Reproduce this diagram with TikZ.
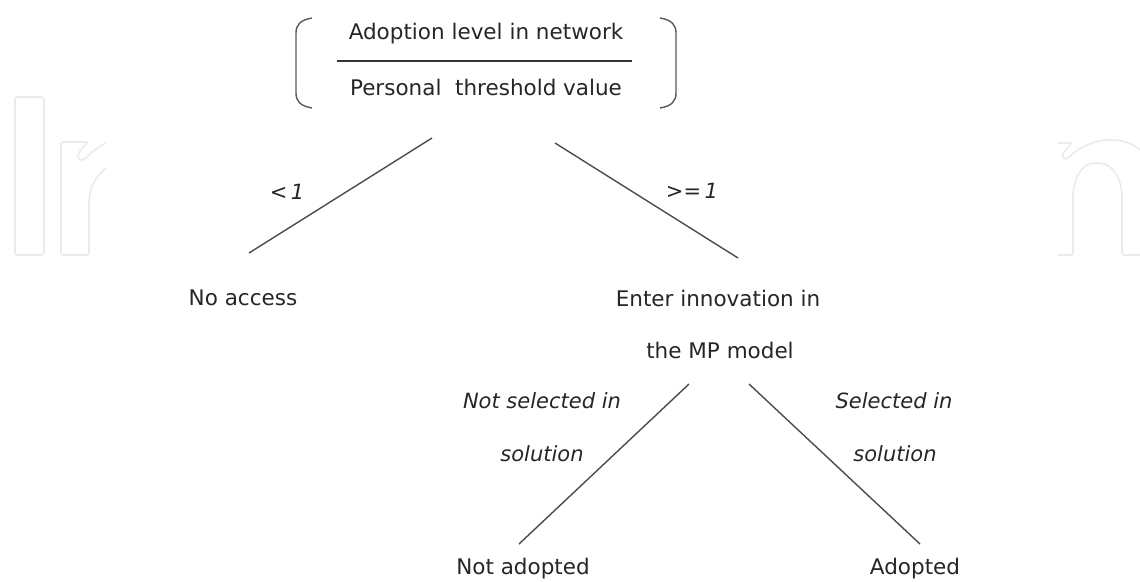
\documentclass[tikz,border=0pt]{standalone}
\usepackage{fontspec}
\setmainfont{DejaVu Sans}
\begin{document}
\begin{tikzpicture}[x=1pt,y=-1pt,
  lbl/.style={font=\fontsize{21.5}{24}\selectfont, text=black!85, inner sep=0pt, anchor=center},
  ilbl/.style={lbl, font=\fontsize{21}{24}\selectfont\itshape},
  branch/.style={draw=black!70, line width=1.4pt},
  paren/.style={draw=black!65, line width=1.4pt},
  wm/.style={draw=black!8, line width=1.6pt, rounded corners=2pt}]
\useasboundingbox (0,0) rectangle (1140,581);
% watermark
\draw[wm] (15,97) rectangle (44,255);
\draw[wm] (106,168) .. controls (94,178) and (89,190) .. (89,205) -- (89,255) -- (61,255) -- (61,142) -- (88,142) -- (79,152) -- (78,157);
\draw[wm] (78,157) .. controls (80,162) and (84,160) .. (88,156) .. controls (94,150) and (100,146) .. (106,143);
\draw[wm] (1140,255) -- (1122,255) -- (1122,200) .. controls (1122,178) and (1112,163) .. (1097,163) .. controls (1082,163) and (1073,178) .. (1073,200) -- (1073,255) -- (1058,255);
\draw[wm] (1058,143) -- (1072,143) -- (1064,152) .. controls (1061,157) and (1065,160) .. (1069,157) .. controls (1080,147) and (1095,140) .. (1110,140) .. controls (1125,140) and (1135,145) .. (1140,150);
% formula
\node[lbl] (num) at (486,34) {Adoption level in network};
\node[lbl] (den) at (486,87) {Personal\ \ threshold value};
\coordinate (fl) at (337,61);
\coordinate (fr) at (632,61);
\draw[draw=black!80, line width=1.2pt] (fl) -- (fr);
\draw[paren] (312,18) .. controls (300,20) and (296,25) .. (296,33) -- (296,93) .. controls (296,101) and (300,106) .. (312,108);
\draw[paren] (660,18) .. controls (672,20) and (676,25) .. (676,33) -- (676,93) .. controls (676,101) and (672,106) .. (660,108);
% first level
\coordinate (a1) at (432,138);
\coordinate (a2) at (249,253);
\coordinate (b1) at (555,143);
\coordinate (b2) at (738,258);
\draw[branch] (a1) -- (a2);
\draw[branch] (b1) -- (b2);
\node[ilbl] (lt) at (287,192) {<\,1};
\node[ilbl] (ge) at (692,191) {>=\,1};
\node[lbl] (noacc) at (243,298) {No access};
\node[lbl] (enter1) at (718,298) {Enter innovation in};
\node[lbl] (enter2) at (720,350) {the MP model};
% second level
\coordinate (c1) at (689,384);
\coordinate (c2) at (519,544);
\coordinate (d1) at (749,384);
\coordinate (d2) at (920,544);
\draw[branch] (c1) -- (c2);
\draw[branch] (d1) -- (d2);
\node[ilbl] (ns1) at (542,401) {Not selected in};
\node[ilbl] (ns2) at (542,454) {solution};
\node[ilbl] (s1) at (894,401) {Selected in};
\node[ilbl] (s2) at (895,454) {solution};
\node[lbl] (notad) at (523,569) {Not adopted};
\node[lbl] (ad) at (915,569) {Adopted};
\end{tikzpicture}
\end{document}
